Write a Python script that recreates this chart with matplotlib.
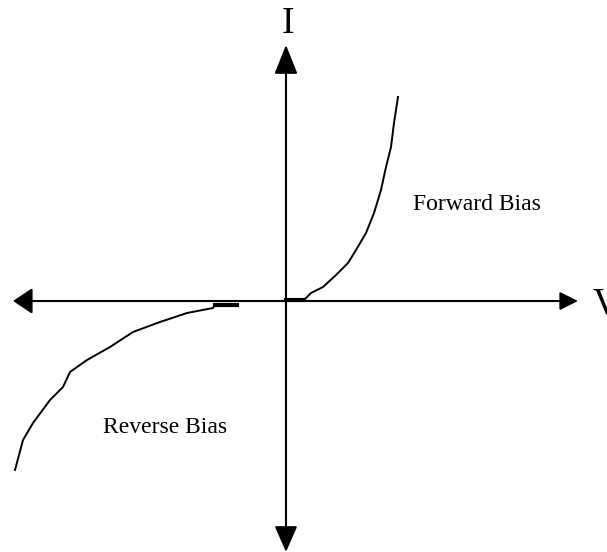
import matplotlib
matplotlib.use("Agg")
import matplotlib.pyplot as plt

# Forward-bias branch (V, I) in arbitrary units, origin at axis crossing
fwd_v = [0, 18, 25, 37, 50, 62, 70, 80, 88, 95, 100, 105, 108, 112]
fwd_i = [1, 1, 8, 14, 26, 38, 51, 68, 88, 111, 134, 154, 178, 204]

# Reverse-bias branch
rev_v = [-49, -71, -73, -99, -126, -153, -176, -199, -216, -223, -236, -253, -263, -271]
rev_i = [-4, -4, -7, -12, -21, -31, -46, -59, -71, -86, -99, -122, -139, -169]

# Thick near-zero segments
fwd_flat_v = [0, 18]
fwd_flat_i = [1, 1]
rev_flat_v = [-49, -71]
rev_flat_i = [-4, -4]

labels = {"forward": "Forward Bias", "reverse": "Reverse Bias", "x": "V", "y": "I"}

fig = plt.figure(figsize=(6.07, 5.52), dpi=100)
ax = fig.add_axes([0, 0, 1, 1])
ax.set_xlim(-286, 321)
ax.set_ylim(-251, 301)
ax.axis("off")

# Axes with arrows
def arrow(tip, start, hl, hw):
    ax.annotate("", xy=tip, xytext=start,
                arrowprops=dict(arrowstyle=f"-|>,head_length={hl},head_width={hw}",
                                mutation_scale=1, lw=1.5, color="black",
                                shrinkA=0, shrinkB=0))

arrow((292, 0), (0, 0), 11, 5.5)
arrow((-273, 0), (0, 0), 12, 8)
arrow((0, 256), (0, 0), 18, 7.2)
arrow((0, -251), (0, 0), 16, 7)

ax.plot(fwd_v, fwd_i, color="black", lw=1.4)
ax.plot(rev_v, rev_i, color="black", lw=1.4)
ax.plot(fwd_flat_v, fwd_flat_i, color="black", lw=3)
ax.plot(rev_flat_v, rev_flat_i, color="black", lw=3)

tfont = dict(family="Liberation Serif", color="black")
ax.text(127, 91, labels["forward"], fontsize=17, ha="left", va="baseline", **tfont)
ax.text(-183, -132, labels["reverse"], fontsize=17, ha="left", va="baseline", **tfont)
ax.text(2, 268, labels["y"], fontsize=27, ha="center", va="baseline", **tfont)
ax.text(307, -12, labels["x"], fontsize=27, ha="left", va="baseline", **tfont)

fig.savefig("out.png", dpi=100, facecolor="white")
